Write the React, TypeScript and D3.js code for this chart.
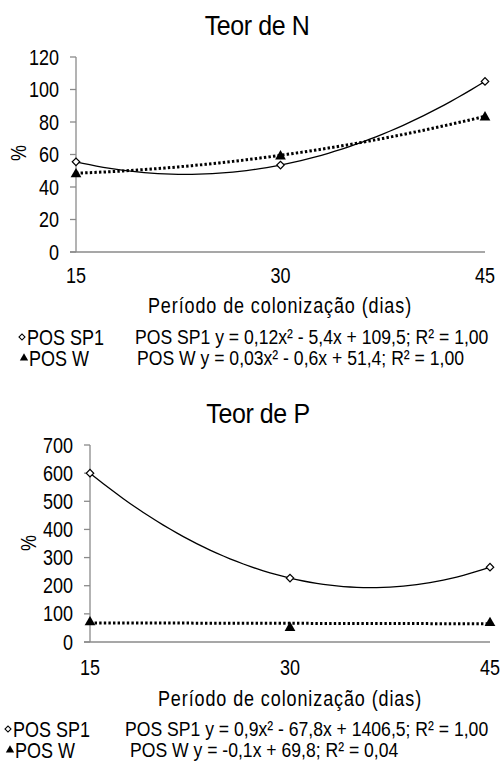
import React from 'react';
import * as d3 from 'd3';

// days of colonization (x)
const days = [15, 30, 45];

// Teor de N (%)
const nSP1 = [55.5, 53.5, 105];
const nW = [48.5, 59.5, 83.5];
const nTicks = [0, 20, 40, 60, 80, 100, 120];
const nEquations = [
  'POS SP1 y = 0,12x² - 5,4x + 109,5; R² = 1,00',
  'POS W y = 0,03x² - 0,6x + 51,4; R² = 1,00',
];

// Teor de P (%)
const pSP1 = [600, 227, 266];
const pW = [74, 54, 71];
const pTicks = [0, 100, 200, 300, 400, 500, 600, 700];
const pEquations = [
  'POS SP1 y = 0,9x² - 67,8x + 1406,5; R² = 1,00',
  'POS W y = -0,1x + 69,8; R² = 0,04',
];

const seriesNames = ['POS SP1', 'POS W'];

const FONT = 'Liberation Sans, Arial, sans-serif';
const AXIS = '#8a8a8a';
const SY = 1.18; // text in the picture is a bit taller than it is wide

// least squares polynomial fit, returns coefficients [c0, c1, c2...]
function polyfit(xs: number[], ys: number[], deg: number): number[] {
  const n = deg + 1;
  const A: number[][] = [];
  for (let r = 0; r < n; r++) {
    A.push([]);
    for (let c = 0; c < n; c++) {
      A[r].push(d3.sum(xs, (x) => Math.pow(x, r + c)));
    }
    A[r].push(d3.sum(xs, (x, i) => Math.pow(x, r) * ys[i]));
  }
  // gauss elimination
  for (let i = 0; i < n; i++) {
    for (let k = i + 1; k < n; k++) {
      const f = A[k][i] / A[i][i];
      for (let j = i; j <= n; j++) A[k][j] -= f * A[i][j];
    }
  }
  const coef = new Array(n).fill(0);
  for (let i = n - 1; i >= 0; i--) {
    let s = A[i][n];
    for (let j = i + 1; j < n; j++) s -= A[i][j] * coef[j];
    coef[i] = s / A[i][i];
  }
  return coef;
}

function T({ x, y, size, anchor = 'start', children, spacing = 0, rotate = 0, sy = SY }: any) {
  return (
    <text
      transform={`translate(${x},${y}) rotate(${rotate}) scale(1,${sy})`}
      fontSize={size}
      fontFamily={FONT}
      textAnchor={anchor}
      letterSpacing={spacing}
      dominantBaseline="central"
      fill="#000"
    >
      {children}
    </text>
  );
}

// open diamond = square turned 45deg
const diamondPath = (size: number) => d3.symbol(d3.symbolSquare, size)() || '';

function Chart({ title, ticks, sp1, w, wDeg, equations, lay }: any) {
  const x = d3.scaleLinear().domain([15, 45]).range([lay.x0, lay.x1]);
  const y = d3
    .scaleLinear()
    .domain([0, ticks[ticks.length - 1]])
    .range([lay.yb, lay.yt]);

  const fitSP1 = polyfit(days, sp1, 2);
  const fitW = polyfit(days, w, wDeg);
  const evalPoly = (c: number[], v: number) => c.reduce((s, k, i) => s + k * Math.pow(v, i), 0);
  const xs = d3.range(15, 45.01, 0.5);
  const line = d3.line<number>().x((d) => x(d));

  const triangle = d3.symbol(d3.symbolTriangle, 50)();

  return (
    <g>
      <T x={lay.titleX} y={lay.titleY} size={25} anchor="middle" sy={1.12} spacing={-0.4}>
        {title}
      </T>
      {/* axes */}
      <line x1={lay.x0} x2={lay.x0} y1={y.range()[1]} y2={y(0)} stroke={AXIS} strokeWidth={1.3} />
      <line x1={lay.x0 - 6} x2={lay.x1} y1={y(0)} y2={y(0)} stroke={AXIS} strokeWidth={1.3} />
      {ticks.map((t: number) => (
        <g key={t}>
          <line x1={lay.x0 - 6} x2={lay.x0} y1={y(t)} y2={y(t)} stroke={AXIS} strokeWidth={1.3} />
          <T x={lay.labelRight} y={y(t)} size={18} anchor="end">
            {t}
          </T>
        </g>
      ))}
      {days.map((d) => (
        <T key={d} x={x(d)} y={lay.xLabelY} size={18} anchor="middle">
          {d}
        </T>
      ))}
      <T x={lay.pctX} y={lay.pctY} size={18} anchor="middle" rotate={-90}>
        %
      </T>
      <T x={lay.axisTitleX} y={lay.axisTitleY} size={18} anchor="middle" spacing={0.9}>
        Período de colonização (dias)
      </T>

      {/* trend lines */}
      <path
        d={line.y((v) => y(evalPoly(fitSP1, v)))(xs) || ''}
        fill="none"
        stroke="#000"
        strokeWidth={1.3}
      />
      <path
        d={line.y((v) => y(evalPoly(fitW, v)))(xs) || ''}
        fill="none"
        stroke="#000"
        strokeWidth={3}
        strokeDasharray="2.4 2.2"
      />

      {/* points */}
      {days.map((d, i) => (
        <path
          key={'s' + d}
          d={diamondPath(28)}
          transform={`translate(${x(d)},${y(sp1[i])}) rotate(45)`}
          fill="#fff"
          stroke="#000"
          strokeWidth={1.2}
        />
      ))}
      {days.map((d, i) => (
        <path key={'w' + d} d={triangle || ''} transform={`translate(${x(d)},${y(w[i]) + 1})`} fill="#000" />
      ))}

      {/* legend */}
      <path
        d={diamondPath(18)}
        transform={`translate(${lay.legX + 5},${lay.row1}) rotate(45)`}
        fill="#fff"
        stroke="#000"
        strokeWidth={1.1}
      />
      <T x={lay.legX + 10} y={lay.row1} size={18}>
        {seriesNames[0]}
      </T>
      <path
        d={d3.symbol(d3.symbolTriangle, 30)() || ''}
        transform={`translate(${lay.legX + 7},${lay.row2})`}
        fill="#000"
      />
      <T x={lay.legX + 12} y={lay.row2} size={18}>
        {seriesNames[1]}
      </T>
      <T x={lay.eqX1} y={lay.row1} size={17.6}>
        {equations[0]}
      </T>
      <T x={lay.eqX2} y={lay.row2} size={17.6}>
        {equations[1]}
      </T>
    </g>
  );
}

export default function App() {
  return (
    <svg
      width={500}
      height={769}
      style={{ position: 'absolute', left: 0, top: 0, background: '#fff' }}
    >
      <rect width={500} height={769} fill="#fff" />
      <Chart
        title="Teor de N"
        ticks={nTicks}
        sp1={nSP1}
        w={nW}
        wDeg={2}
        equations={nEquations}
        lay={{
          x0: 76, x1: 485, yt: 57, yb: 252, labelRight: 59,
          titleX: 257, titleY: 26, xLabelY: 275, pctX: 18, pctY: 153,
          axisTitleX: 280, axisTitleY: 305, legX: 17, row1: 337, row2: 358,
          eqX1: 135, eqX2: 137,
        }}
      />
      <Chart
        title="Teor de P"
        ticks={pTicks}
        sp1={pSP1}
        w={pW}
        wDeg={1}
        equations={pEquations}
        lay={{
          x0: 90, x1: 490, yt: 445, yb: 642, labelRight: 73,
          titleX: 258, titleY: 414, xLabelY: 667, pctX: 28, pctY: 543,
          axisTitleX: 290, axisTitleY: 698, legX: 3, row1: 729, row2: 750,
          eqX1: 125, eqX2: 130,
        }}
      />
    </svg>
  );
}
